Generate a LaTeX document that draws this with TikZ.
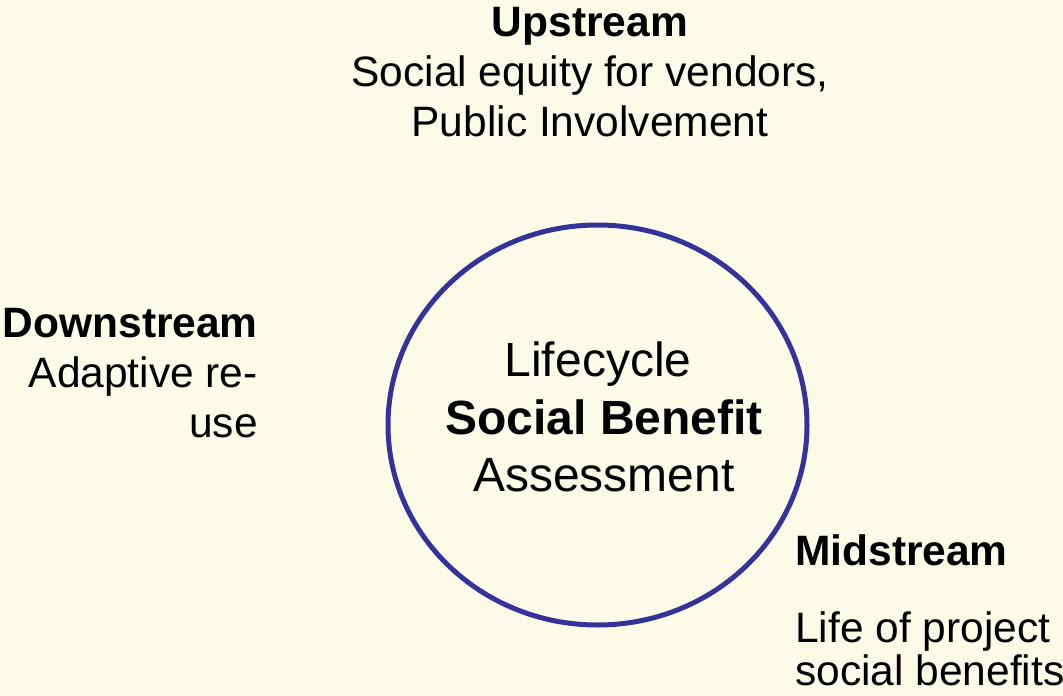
\documentclass[tikz,border=0pt]{standalone}
\usepackage{fontspec}
\setmainfont{Liberation Sans}
\definecolor{bgcream}{HTML}{FCFBE7}
\definecolor{ringblue}{HTML}{333399}
\begin{document}
\begin{tikzpicture}[x=1pt,y=-1pt,
  lbl/.style={inner sep=0pt, font=\fontsize{42.5}{50}\selectfont},
  centertxt/.style={inner sep=0pt, align=center, font=\fontsize{48}{57.5}\selectfont},
  ring/.style={draw=ringblue, line width=5pt}]
\fill[bgcream] (0,0) rectangle (1063,696);
\useasboundingbox (0,0) rectangle (1063,696);
\draw[ring] (597.5,425) ellipse [x radius=209.5, y radius=200];
\node[centertxt] (center) at (604,417) {Lifecycle\hspace{12pt}\mbox{}\\\textbf{Social Benefit}\\Assessment};
\node[lbl, align=center, anchor=north] (up) at (590,7) {\textbf{Upstream}\\Social equity for vendors,\\Public Involvement};
\node[lbl, align=right, anchor=north east] (down) at (258,308) {\textbf{Downstream}\\Adaptive re-\\use};
\node[lbl, align=left, anchor=north west] (mid) at (795,534) {\textbf{Midstream}\\[27pt]Life of project\\[-7pt]social benefits};
\end{tikzpicture}
\end{document}
